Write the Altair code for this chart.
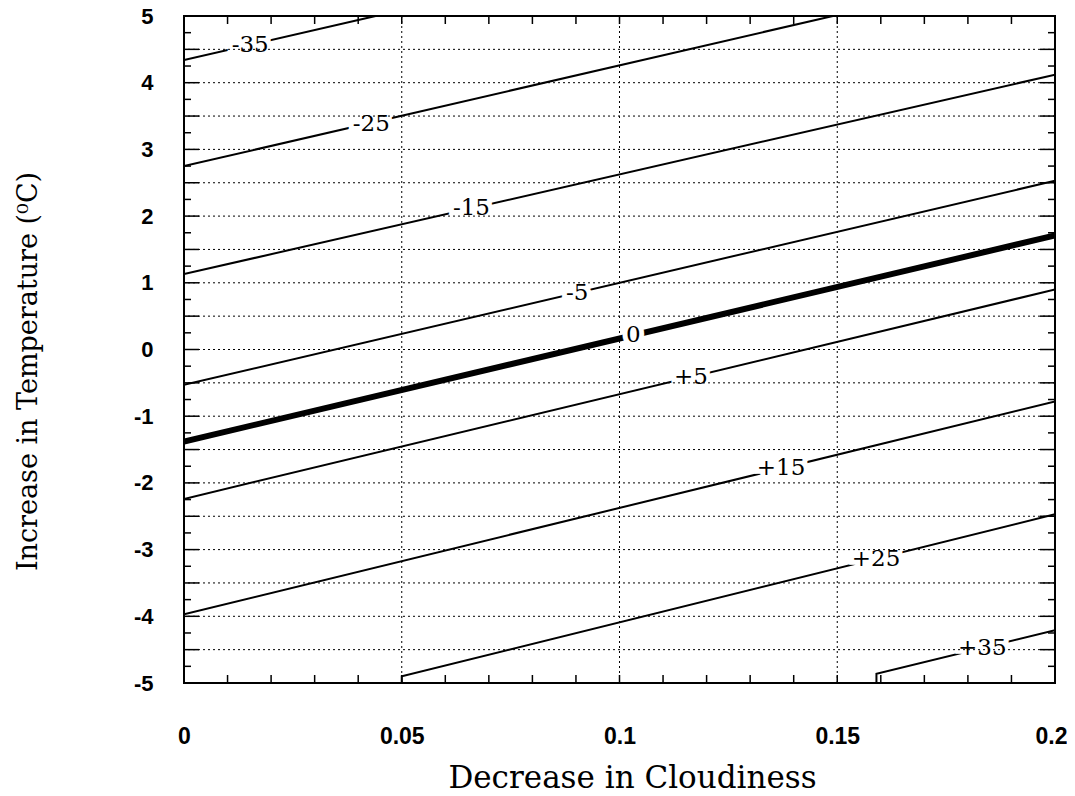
import altair as alt
import pandas as pd

# Contour lines (level label, start point, end point; optional bottom stub)
c_levels = ["-35", "-25", "-15", "-5", "0", "+5", "+15", "+25", "+35"]
c_x_start = [0.0, 0.0, 0.0, 0.0, 0.0, 0.0, 0.0, 0.05, 0.159]
c_y_start = [4.34, 2.75, 1.13, -0.53, -1.38, -2.24, -3.97, -4.90, -4.86]
c_x_end = [0.044, 0.149, 0.2, 0.2, 0.2, 0.2, 0.2, 0.2, 0.2]
c_y_end = [5.0, 5.0, 4.12, 2.53, 1.71, 0.90, -0.78, -2.47, -4.21]
c_y_floor = [None, None, None, None, None, None, None, -5.0, -5.0]

# Contour label positions
lab_x = [0.0152, 0.043, 0.066, 0.0903, 0.1032, 0.1164, 0.1371, 0.1589, 0.1833]
lab_y = [4.57, 3.38, 2.12, 0.85, 0.22, -0.41, -1.78, -3.14, -4.47]

# Grid / tick values
grid_x = [0.05, 0.10, 0.15]
grid_y = [-4.5, -4, -3.5, -3, -2.5, -2, -1.5, -1, -0.5, 0, 0.5, 1, 1.5, 2, 2.5, 3, 3.5, 4, 4.5]
tick_x = [0.01, 0.02, 0.03, 0.04, 0.05, 0.06, 0.07, 0.08, 0.09, 0.10,
          0.11, 0.12, 0.13, 0.14, 0.15, 0.16, 0.17, 0.18, 0.19]
tick_y_major = grid_y
tick_y_minor = [-4.75, -4.25, -3.75, -3.25, -2.75, -2.25, -1.75, -1.25, -0.75, -0.25,
                0.25, 0.75, 1.25, 1.75, 2.25, 2.75, 3.25, 3.75, 4.25, 4.75]
x_labels = [0, 0.05, 0.1, 0.15, 0.2]
y_labels = [-5, -4, -3, -2, -1, 0, 1, 2, 3, 4, 5]

W, H = 871, 667

rows = []
for i, lv in enumerate(c_levels):
    k = 0
    if c_y_floor[i] is not None:
        rows.append({"level": lv, "x": c_x_start[i], "y": c_y_floor[i], "idx": k}); k += 1
    rows.append({"level": lv, "x": c_x_start[i], "y": c_y_start[i], "idx": k}); k += 1
    rows.append({"level": lv, "x": c_x_end[i], "y": c_y_end[i], "idx": k})
df_lines = pd.DataFrame(rows)
df_labels = pd.DataFrame({"level": c_levels, "x": lab_x, "y": lab_y})

xs = alt.Scale(domain=[0, 0.2], nice=False, zero=False)
ys = alt.Scale(domain=[-5, 5], nice=False, zero=False)

x_axis = alt.Axis(values=x_labels, format="~g", labelFont="Liberation Sans",
                  labelFontWeight="bold", labelFontSize=23, labelColor="black",
                  labelPadding=42, labelFlush=False, labelOverlap=False,
                  labelOffset={"condition": {"test": "datum.value > 0.19", "value": -4}, "value": 0},
                  ticks=False, domain=False, grid=False,
                  title="Decrease in Cloudiness", titleFont="DejaVu Serif",
                  titleFontSize=31, titleFontWeight="normal", titleColor="black",
                  titleX=448, titleY=104, titleBaseline="alphabetic", titleAlign="center")
y_axis = alt.Axis(values=y_labels, labelExpr="'' + datum.value", labelFont="Liberation Sans",
                  labelFontWeight="bold", labelFontSize=22, labelColor="black",
                  labelPadding=31, labelFlush=False, labelOverlap=False,
                  ticks=False, domain=False, grid=False,
                  title="Increase in Temperature (\u2070C)", titleFont="DejaVu Serif",
                  titleFontSize=27, titleFontWeight="normal", titleColor="black",
                  titleX=-148, titleY=355, titleAngle=270, titleBaseline="alphabetic",
                  titleAlign="center")

X = alt.X("x:Q", scale=xs, axis=x_axis)
Y = alt.Y("y:Q", scale=ys, axis=y_axis)

thin = alt.Chart(df_lines).transform_filter(alt.datum.level != "0").mark_line(
    color="black", strokeWidth=2, clip=True).encode(x=X, y=Y, detail="level:N", order="idx:Q")

thick = alt.Chart(df_lines).transform_filter(alt.datum.level == "0").mark_line(
    color="black", strokeWidth=6, clip=True).encode(x=X, y=Y, detail="level:N", order="idx:Q")

halo = alt.Chart(df_labels).mark_text(
    font="DejaVu Serif", fontSize=23, color="white", stroke="white", strokeWidth=10,
    align="center", baseline="middle").encode(x=X, y=Y, text="level:N")

gx = alt.Chart(pd.DataFrame({"x": grid_x})).mark_rule(
    color="black", strokeWidth=1, strokeDash=[2, 3]).encode(x=X)
gy = alt.Chart(pd.DataFrame({"y": grid_y})).mark_rule(
    color="black", strokeWidth=1, strokeDash=[2, 3]).encode(y=Y)

df_tx = pd.DataFrame({"x": tick_x})
tb = alt.Chart(df_tx).mark_rule(color="black", strokeWidth=1.5).encode(
    x=X, y=alt.value(H), y2=alt.value(H - 8))
tt = alt.Chart(df_tx).mark_rule(color="black", strokeWidth=1.5).encode(
    x=X, y=alt.value(0), y2=alt.value(8))

df_major = pd.DataFrame({"y": tick_y_major})
df_minor = pd.DataFrame({"y": tick_y_minor})
tl_maj = alt.Chart(df_major).mark_rule(color="black", strokeWidth=1.5).encode(
    y=Y, x=alt.value(0), x2=alt.value(15))
tr_maj = alt.Chart(df_major).mark_rule(color="black", strokeWidth=1.5).encode(
    y=Y, x=alt.value(W), x2=alt.value(W - 15))
tl_min = alt.Chart(df_minor).mark_rule(color="black", strokeWidth=1.5).encode(
    y=Y, x=alt.value(0), x2=alt.value(7))
tr_min = alt.Chart(df_minor).mark_rule(color="black", strokeWidth=1.5).encode(
    y=Y, x=alt.value(W), x2=alt.value(W - 7))

labels = alt.Chart(df_labels).mark_text(
    font="DejaVu Serif", fontSize=23, color="black",
    align="center", baseline="middle").encode(x=X, y=Y, text="level:N")

chart = alt.layer(thin, thick, halo, gx, gy, tb, tt, tl_maj, tr_maj, tl_min, tr_min, labels).properties(
    width=W, height=H,
    padding={"left": 176, "top": 8, "right": 12, "bottom": 105},
    autosize=alt.AutoSizeParams(type="none"),
    background="white",
).configure_view(stroke="black", strokeWidth=2)

chart.save("out.html", embed_options={"renderer": "svg", "actions": False})
